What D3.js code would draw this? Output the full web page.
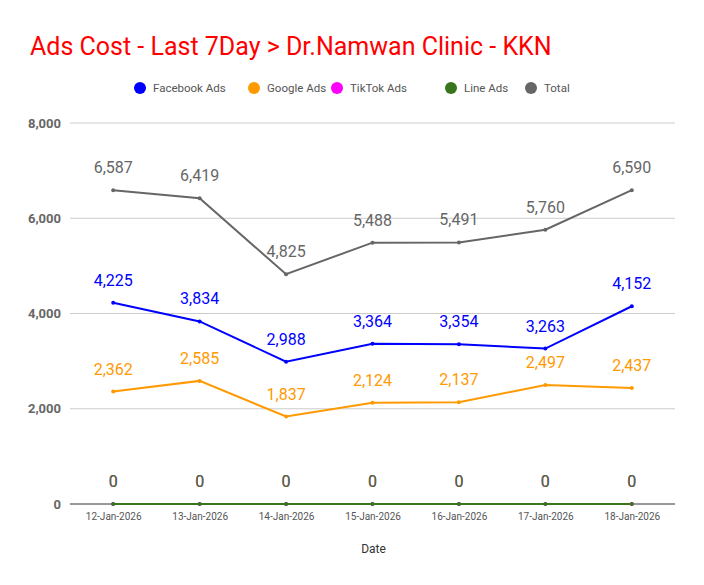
<!DOCTYPE html>
<html><head><meta charset="utf-8">
<script src="https://cdn.jsdelivr.net/npm/d3@7"></script>
<style>body{margin:0;background:#fff;font-family:Roboto,sans-serif}</style>
</head><body><div id="chart"></div>
<script>
const dates = ['12-Jan-2026','13-Jan-2026','14-Jan-2026','15-Jan-2026','16-Jan-2026','17-Jan-2026','18-Jan-2026'];
const facebook = [4225, 3834, 2988, 3364, 3354, 3263, 4152];
const google = [2362, 2585, 1837, 2124, 2137, 2497, 2437];
const tiktok = [0, 0, 0, 0, 0, 0, 0];
const line = [0, 0, 0, 0, 0, 0, 0];
const total = [6587, 6419, 4825, 5488, 5491, 5760, 6590];
const yTicks = [0, 2000, 4000, 6000, 8000];

const series = [
  { name: 'Facebook Ads', values: facebook, color: '#0000ff' },
  { name: 'Google Ads', values: google, color: '#ff9900' },
  { name: 'TikTok Ads', values: tiktok, color: '#ff00ff' },
  { name: 'Line Ads', values: line, color: '#38761d' },
  { name: 'Total', values: total, color: '#666666' }
];

const W = 704, H = 585;
const m = { top: 123, right: 29, bottom: 81, left: 70 };
const svg = d3.select('#chart').append('svg').attr('width', W).attr('height', H);

svg.append('text').attr('x', 30).attr('y', 55).attr('fill', '#ff0000')
  .attr('font-size', 25).text('Ads Cost - Last 7Day > Dr.Namwan Clinic - KKN');

const x = d3.scalePoint().domain(dates).range([m.left, W - m.right]).padding(0.5);
const y = d3.scaleLinear().domain([0, 8000]).range([H - m.bottom, m.top]);

// gridlines
svg.append('g').selectAll('line').data(yTicks).join('line')
  .attr('x1', m.left).attr('x2', W - m.right)
  .attr('y1', d => y(d)).attr('y2', d => y(d))
  .attr('stroke', d => d === 0 ? '#333' : '#ccc').attr('stroke-width', 1);

const yAxis = svg.append('g').attr('transform', `translate(${m.left - 6},0)`)
  .call(d3.axisLeft(y).tickValues(yTicks).tickSize(0).tickFormat(d3.format(',')));
yAxis.select('.domain').remove();
yAxis.selectAll('text').attr('font-size', 13).attr('font-weight', 'bold').attr('fill', '#666').attr('font-family', 'Roboto');

const xAxis = svg.append('g').attr('transform', `translate(0,${H - m.bottom + 6})`)
  .call(d3.axisBottom(x).tickSize(0));
xAxis.select('.domain').remove();
xAxis.selectAll('text').attr('font-size', 10).attr('fill', '#555').attr('font-family', 'Roboto');

svg.append('text').attr('x', (m.left + W - m.right) / 2 + 1).attr('y', 553)
  .attr('text-anchor', 'middle').attr('font-size', 12).attr('fill', '#333').text('Date');

// legend
const legX = [140, 254, 337, 451, 531];
const leg = svg.append('g').selectAll('g').data(series).join('g')
  .attr('transform', (d, i) => `translate(${legX[i]},88)`);
leg.append('circle').attr('r', 6).attr('fill', d => d.color);
leg.append('text').attr('x', 13).attr('y', 4).attr('font-size', 11.5).attr('fill', '#555').text(d => d.name);

const ln = d3.line().x((d, i) => x(dates[i])).y(d => y(d));
series.forEach(s => {
  const g = svg.append('g');
  g.append('path').attr('d', ln(s.values)).attr('fill', 'none').attr('stroke', s.color).attr('stroke-width', 2);
  g.selectAll('circle').data(s.values).join('circle')
    .attr('cx', (d, i) => x(dates[i])).attr('cy', d => y(d)).attr('r', 2).attr('fill', s.color);
  g.selectAll('text').data(s.values).join('text')
    .attr('x', (d, i) => x(dates[i])).attr('y', d => y(d) - 17)
    .attr('text-anchor', 'middle').attr('font-size', 16).attr('fill', s.color)
    .text(d => d3.format(',')(d));
});
</script></body></html>
